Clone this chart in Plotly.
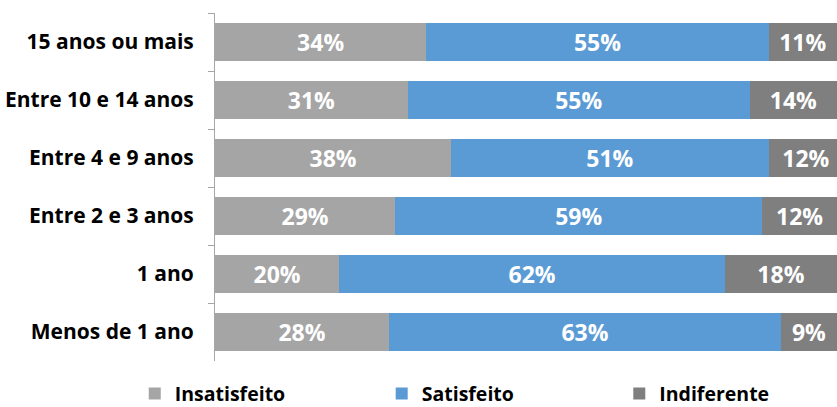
import plotly.graph_objects as go

# Tempo de casa (faixas) e distribuição da satisfação em cada faixa (%)
categorias = ["15 anos ou mais", "Entre 10 e 14 anos", "Entre 4 e 9 anos",
              "Entre 2 e 3 anos", "1 ano", "Menos de 1 ano"]
insatisfeito = [34, 31, 38, 29, 20, 28]
satisfeito = [55, 55, 51, 59, 62, 63]
indiferente = [11, 14, 12, 12, 18, 9]

# nome, valores, cor, legenda, posição horizontal da legenda
series = [
    ("Insatisfeito", insatisfeito, "#A5A5A5", "legend", -0.129),
    ("Satisfeito", satisfeito, "#5B9BD5", "legend2", 0.268),
    ("Indiferente", indiferente, "#7F7F7F", "legend3", 0.650),
]

FONT = "'Open Sans', Lato, sans-serif"

fig = go.Figure()
for nome, valores, cor, leg, _ in series:
    fig.add_trace(go.Bar(
        y=categorias,
        x=valores,
        name=nome,
        legend=leg,
        orientation="h",
        marker=dict(color=cor, line=dict(width=0)),
        text=[f"{v}%" for v in valores],
        textposition="inside",
        insidetextanchor="middle",
        textangle=0,
        constraintext="none",
        cliponaxis=True,
        textfont=dict(family=FONT, size=23, color="white", weight="bold"),
        hovertemplate="%{y}: %{text}<extra>" + nome + "</extra>",
    ))

legend_style = dict(
    orientation="h",
    y=-0.094,
    yanchor="middle",
    xanchor="left",
    itemwidth=30,
    bgcolor="rgba(0,0,0,0)",
    font=dict(family=FONT, size=19.5, color="black", weight="bold"),
)

layout_legends = {}
for _, _, _, leg, xpos in series:
    layout_legends[leg] = dict(legend_style, x=xpos)

fig.update_layout(
    barmode="stack",
    bargap=0.36,
    width=837,
    height=407,
    margin=dict(l=215, r=0, t=13, b=46, autoexpand=False),
    paper_bgcolor="white",
    plot_bgcolor="white",
    uniformtext=dict(minsize=12, mode="show"),
    font=dict(family=FONT, color="black"),
    xaxis=dict(visible=False, range=[0, 100], fixedrange=True),
    yaxis=dict(
        autorange="reversed",
        showline=True,
        linecolor="#A6A6A6",
        linewidth=1,
        ticks="outside",
        tickson="boundaries",
        ticklen=6,
        tickcolor="#A6A6A6",
        ticklabelstandoff=16,
        tickfont=dict(family=FONT, size=21, color="black", weight="bold"),
        showgrid=False,
    ),
    showlegend=True,
    **layout_legends,
)

fig.write_html("out.html")
